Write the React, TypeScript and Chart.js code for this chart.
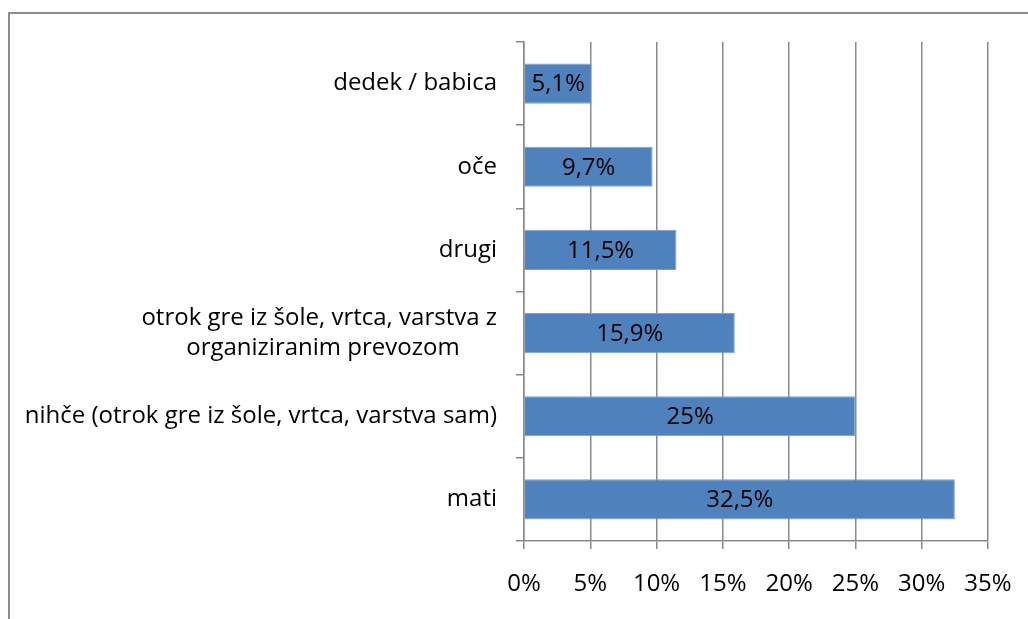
import React, { useEffect, useRef } from "react";
import { Chart, registerables } from "chart.js";

Chart.register(...registerables);

const categories: (string | string[])[] = [
  "dedek / babica",
  "oče",
  "drugi",
  ["otrok gre iz šole, vrtca, varstva z", "organiziranim prevozom      "],
  "nihče (otrok gre iz šole, vrtca, varstva sam)",
  "mati",
];
const values = [5.1, 9.7, 11.5, 15.9, 25, 32.5];
const valueLabels = ["5,1%", "9,7%", "11,5%", "15,9%", "25%", "32,5%"];
const axisMin = 0;
const axisMax = 35;
const axisStep = 5;

const FONT = "'Open Sans', 'Noto Sans', sans-serif";
const GRID = "#8a8a8a";
const FS = 24;

const barLabelPlugin = {
  id: "barLabels",
  afterDatasetsDraw(chart: any) {
    const ctx = chart.ctx;
    const meta = chart.getDatasetMeta(0);
    ctx.save();
    ctx.font = `${FS}px ${FONT}`;
    ctx.fillStyle = "#000";
    ctx.textAlign = "center";
    ctx.textBaseline = "middle";
    meta.data.forEach((bar: any, i: number) => {
      const cx = (bar.x + bar.base) / 2;
      ctx.fillText(valueLabels[i], cx, bar.y + 1);
    });
    ctx.restore();
  },
};

export default function App() {
  const ref = useRef<HTMLCanvasElement>(null);
  useEffect(() => {
    document.body.style.overflow = "hidden";
    const chart = new Chart(ref.current!, {
      type: "bar",
      data: {
        labels: categories,
        datasets: [
          {
            data: values,
            backgroundColor: "#4F81BD",
            borderColor: "#7aa2d4",
            borderWidth: 1,
            categoryPercentage: 1,
            barPercentage: 0.482,
          },
        ],
      },
      options: {
        indexAxis: "y",
        responsive: false,
        animation: false,
        layout: { padding: { top: 42, right: 40, left: 0, bottom: 0 } },
        plugins: {
          legend: { display: false },
          tooltip: { enabled: false },
        },
        scales: {
          x: {
            min: axisMin,
            max: axisMax,
            position: "bottom",
            ticks: {
              stepSize: axisStep,
              callback: (v: any) => `${v}%`,
              color: "#000",
              font: { family: FONT, size: FS },
              padding: 21,
              maxRotation: 0,
            },
            grid: { color: GRID, lineWidth: 1.5, tickLength: 8 },
            border: { color: GRID, width: 1.5 },
            afterFit: (s: any) => {
              s.height = 619 - 541;
              s.paddingLeft = 0;
              s.paddingRight = 0;
            },
          },
          y: {
            ticks: {
              color: "#000",
              font: { family: FONT, size: FS, lineHeight: 1.25 },
              padding: 19,
              crossAlign: "near",
            },
            grid: {
              drawOnChartArea: false,
              drawTicks: true,
              tickLength: 8,
              color: GRID,
              lineWidth: 1.5,
              offset: true,
            },
            border: { color: GRID, width: 1.5 },
            afterFit: (s: any) => {
              s.width = 524;
              s.paddingTop = 0;
              s.paddingBottom = 0;
            },
          },
        },
      },
      plugins: [barLabelPlugin],
    });
    return () => chart.destroy();
  }, []);

  return (
    <div style={{ position: "fixed", left: 0, top: 0, width: 1028, height: 619, background: "#fff", overflow: "hidden" }}>
      <div
        style={{
          position: "absolute",
          left: 8,
          top: 12,
          width: 1100,
          height: 700,
          borderTop: "2px solid #8c8c8c",
          borderLeft: "2px solid #8c8c8c",
        }}
      />
      <canvas ref={ref} width={1028} height={619} style={{ position: "absolute", left: 0, top: 0 }} />
    </div>
  );
}
